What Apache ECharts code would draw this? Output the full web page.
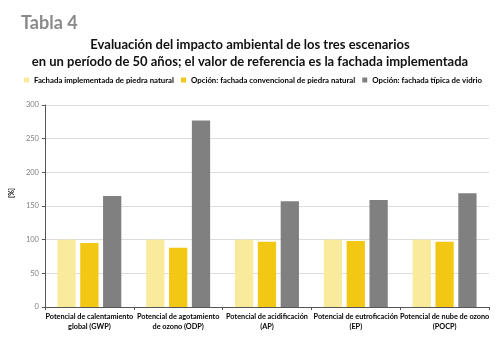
<!DOCTYPE html>
<html><head><meta charset="utf-8">
<script src="https://cdn.jsdelivr.net/npm/echarts@6/dist/echarts.min.js"></script>
<style>html,body{margin:0;padding:0;background:#fff}#c{width:500px;height:338px}</style>
</head><body><div id="c"></div>
<script>
const categories = [
  'Potencial de calentamiento\nglobal (GWP)',
  'Potencial de agotamiento\nde ozono (ODP)',
  'Potencial de acidificación\n(AP)',
  'Potencial de eutroficación\n(EP)',
  'Potencial de nube de ozono\n(POCP)'
];
const seriesNames = [
  'Fachada implementada de piedra natural',
  'Opción: fachada convencional de piedra natural',
  'Opción: fachada típica de vidrio'
];
const implementada = [100, 100, 100, 100, 100];
const convencional = [95, 88, 97, 98, 97];
const vidrio = [165, 277, 157, 159, 169];
const yTicks = [0, 50, 100, 150, 200, 250, 300];

const colors = ['#F9EB9B', '#F3C815', '#808080'];
const chart = echarts.init(document.getElementById('c'));
const font = 'Lato, "Liberation Sans", sans-serif';
chart.setOption({
  animation: false,
  textStyle: { fontFamily: font },
  title: [
    { text: 'Tabla 4', left: 16, top: 9, textStyle: { fontSize: 18, fontWeight: 'bold', color: '#8a8a8a', fontFamily: font } },
    { text: 'Evaluación del impacto ambiental de los tres escenarios\nen un período de 50 años; el valor de referencia es la fachada implementada',
      left: 'center', top: 31, textStyle: { fontSize: 13, fontWeight: 'bold', color: '#111', lineHeight: 17, fontFamily: font } }
  ],
  legend: {
    top: 76, left: 24, width: 560, padding: 0, itemWidth: 5, itemHeight: 5, itemGap: 7,
    icon: 'rect',
    textStyle: { fontSize: 7.8, color: '#000', fontWeight: 'bold' },
    data: seriesNames
  },
  grid: { left: 40, right: 11, top: 105, bottom: 31, containLabel: false },
  xAxis: {
    type: 'category', data: categories,
    axisLine: { lineStyle: { color: '#555', width: 1 } },
    axisTick: { show: true, length: 3, lineStyle: { color: '#555' } },
    axisLabel: { fontSize: 7.3, color: '#000', fontWeight: 'bold', lineHeight: 10, margin: 5, interval: 0 }
  },
  yAxis: {
    type: 'value', min: 0, max: 300, interval: 50,
    name: '[%]', nameLocation: 'middle', nameGap: 24, nameRotate: 90,
    nameTextStyle: { fontSize: 7, fontWeight: 'bold', color: '#000', padding: [0, 0, 0, 26] },
    axisLine: { show: true, lineStyle: { color: '#555' } },
    axisTick: { show: true, length: 3, lineStyle: { color: '#555' } },
    axisLabel: { fontSize: 7.5, color: '#808080', margin: 6, formatter: v => yTicks.includes(v) ? String(v) : '' },
    splitLine: { lineStyle: { color: '#dcdcdc' } }
  },
  series: [
    { name: seriesNames[0], type: 'bar', data: implementada, itemStyle: { color: colors[0] }, barGap: '25%', barCategoryGap: '28%' },
    { name: seriesNames[1], type: 'bar', data: convencional, itemStyle: { color: colors[1] } },
    { name: seriesNames[2], type: 'bar', data: vidrio, itemStyle: { color: colors[2] } }
  ]
});
</script></body></html>
